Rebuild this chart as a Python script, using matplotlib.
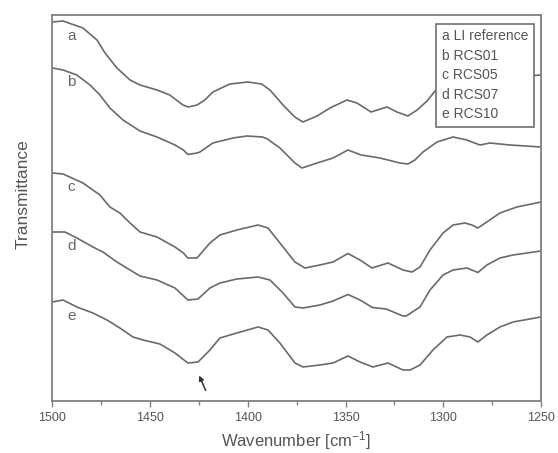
import matplotlib
matplotlib.use("Agg")
import matplotlib.pyplot as plt
from matplotlib.ticker import MultipleLocator

plt.rcParams['font.family'] = ['Liberation Sans', 'DejaVu Sans']
plt.rcParams['mathtext.fontset'] = 'custom'
plt.rcParams['mathtext.rm'] = 'Liberation Sans'
plt.rcParams['mathtext.default'] = 'regular'

# spectra (arbitrary transmittance units, offset)
wn_a = [1500, 1494.6, 1484.4, 1477.2, 1473.1, 1467, 1460.3, 1455.2, 1446.5, 1440,
        1433.2, 1430.5, 1426, 1422, 1417.9, 1409.2, 1400, 1393, 1388.7, 1382,
        1376, 1371.8, 1364.6, 1358, 1349.3, 1344.2, 1337, 1328.8, 1323.7, 1318.1,
        1313.4, 1308.3, 1304.2, 1297, 1288, 1282, 1277, 1265, 1250]
t_a = [379, 380, 373, 361, 348, 333, 321, 316, 311, 306,
       296, 294, 296, 301, 309, 317, 319, 317, 311, 296,
       284, 279, 285, 293, 301, 298, 289, 294, 289, 285,
       291, 300, 310, 319, 322, 321, 323, 324, 326]

wn_b = [1500, 1494.6, 1487.5, 1480.8, 1475.7, 1470.6, 1463.9, 1455.2, 1446.5, 1437.3,
        1433, 1430.7, 1426, 1424.5, 1417.9, 1407.6, 1400.5, 1392.5, 1390, 1383.6,
        1375.9, 1372.3, 1364.6, 1356.4, 1348.8, 1342, 1332.4, 1322.2, 1318.1, 1314.5,
        1310.4, 1303.2, 1295, 1287.9, 1284, 1281.2, 1276.1, 1265.9, 1250]
t_b = [333, 331, 326, 316, 306, 293, 281, 270, 264, 256,
       251, 246.5, 248, 249, 258, 263, 265, 264, 262, 253,
       238, 233, 238, 243, 251, 246, 243, 238, 237, 241,
       249, 259, 264, 261, 258, 256, 258, 256, 254]

wn_c = [1500, 1494.6, 1484.4, 1475.7, 1470.6, 1465.5, 1460.3, 1455.2, 1446.5, 1437.3,
        1433, 1430.7, 1426, 1419.4, 1414.3, 1405.6, 1394.8, 1389.7, 1383.6, 1375.9,
        1370.8, 1363.1, 1356.4, 1348.8, 1342.6, 1336.5, 1328.3, 1320.6, 1316, 1311.9,
        1306.8, 1300.1, 1295, 1288.9, 1285.3, 1282.3, 1277.7, 1271, 1262.3, 1250]
t_c = [228, 227, 218, 206, 194, 188, 178, 169, 164, 154,
       148, 143, 143, 158, 166, 171, 176, 173, 158, 139,
       133, 136, 139, 147.5, 141, 133, 138, 131, 129, 134,
       151, 168, 176, 178, 176, 173, 179, 188, 194, 199]

wn_d = [1500, 1493.6, 1487.5, 1479.3, 1474.2, 1467, 1460.3, 1455.2, 1446.5, 1437.3,
        1430.7, 1425.5, 1419.4, 1414.3, 1405.6, 1394.8, 1388.7, 1382, 1375.9, 1371.8,
        1363.1, 1356.4, 1348.8, 1342.6, 1336.3, 1329.3, 1320.6, 1319, 1311.9, 1306.8,
        1300.1, 1295, 1287.9, 1282.3, 1277.7, 1271, 1264.3, 1250]
t_d = [169, 169, 163, 154, 149, 139, 131, 125, 121, 113,
       101, 102, 113, 118, 122, 124, 121, 108, 94, 93,
       96, 100, 106.5, 101, 93.5, 92, 85, 85, 94, 111,
       126, 131, 133, 128.5, 136, 143, 146, 150]

wn_e = [1500, 1494.6, 1487.5, 1479.3, 1472.1, 1465.5, 1458.8, 1453.7, 1445, 1437.3,
        1430.7, 1425.5, 1419.4, 1414.3, 1405.6, 1394.8, 1389.7, 1383.6, 1375.9, 1371.8,
        1363.1, 1356.4, 1348.8, 1342.6, 1336, 1328.3, 1320.6, 1317, 1311.9, 1305.3,
        1298.1, 1291.4, 1286.3, 1282.3, 1277.7, 1271, 1264.3, 1250]
t_e = [99, 101, 94, 88, 81, 73, 64, 61, 57, 48,
       38, 39, 51, 63, 68, 74, 71, 58, 38, 34,
       36, 38, 45, 39, 34, 38, 31, 31, 36, 51,
       64, 66, 64, 59, 66, 74, 79, 84]

letters = ['a', 'b', 'c', 'd', 'e']
names = ['LI reference', 'RCS01', 'RCS05', 'RCS07', 'RCS10']
wns = [wn_a, wn_b, wn_c, wn_d, wn_e]
ts = [t_a, t_b, t_c, t_d, t_e]

fig = plt.figure(figsize=(5.58, 4.53), dpi=100)
ax = fig.add_axes([0.094, 0.1148, 0.8755, 0.8521])

line_col = '#6a6a6a'
for wn, t in zip(wns, ts):
    ax.plot(wn, t, color=line_col, lw=1.2, solid_joinstyle='round')

# curve letters next to the left edge
for lab, t in zip(letters, ts):
    ax.text(1492.5, t[0] - 14, lab, fontsize=11, color='#666666', va='center', ha='left')

# arrow under band of curve e
ax.annotate('', xy=(1425.5, 28), xytext=(1421, 8),
            arrowprops=dict(arrowstyle='-|>', color='#333333', lw=1.1, mutation_scale=7))

ax.set_xlim(1500, 1250)
ax.set_ylim(0, 386)
ax.xaxis.set_major_locator(MultipleLocator(50))
ax.xaxis.set_minor_locator(MultipleLocator(25))
ax.tick_params(axis='x', which='both', direction='out', length=4, width=1.0,
               color='#808080', labelsize=9, labelcolor='#555555', pad=4)
ax.tick_params(axis='x', which='minor', length=3)
ax.set_yticks([])
for s in ax.spines.values():
    s.set_color('#808080')
    s.set_linewidth(1.3)

ax.set_xlabel(r'Wavenumber [cm$^{-1}$]', fontsize=12, color='#555555')
ax.set_ylabel('Transmittance', fontsize=12.5, color='#555555')
ax.xaxis.set_label_coords(0.498, -0.072)
ax.yaxis.set_label_coords(-0.044, 0.536)

legend_text = '\n'.join(l + ' ' + n for l, n in zip(letters, names))
ax.text(0.797, 0.963, legend_text, transform=ax.transAxes, fontsize=10,
        color='#555555', va='top', ha='left', linespacing=1.5, zorder=5,
        bbox=dict(boxstyle='square,pad=0.4', fc='white', ec='#707070', lw=1.2))

fig.savefig('out.png', dpi=100)
